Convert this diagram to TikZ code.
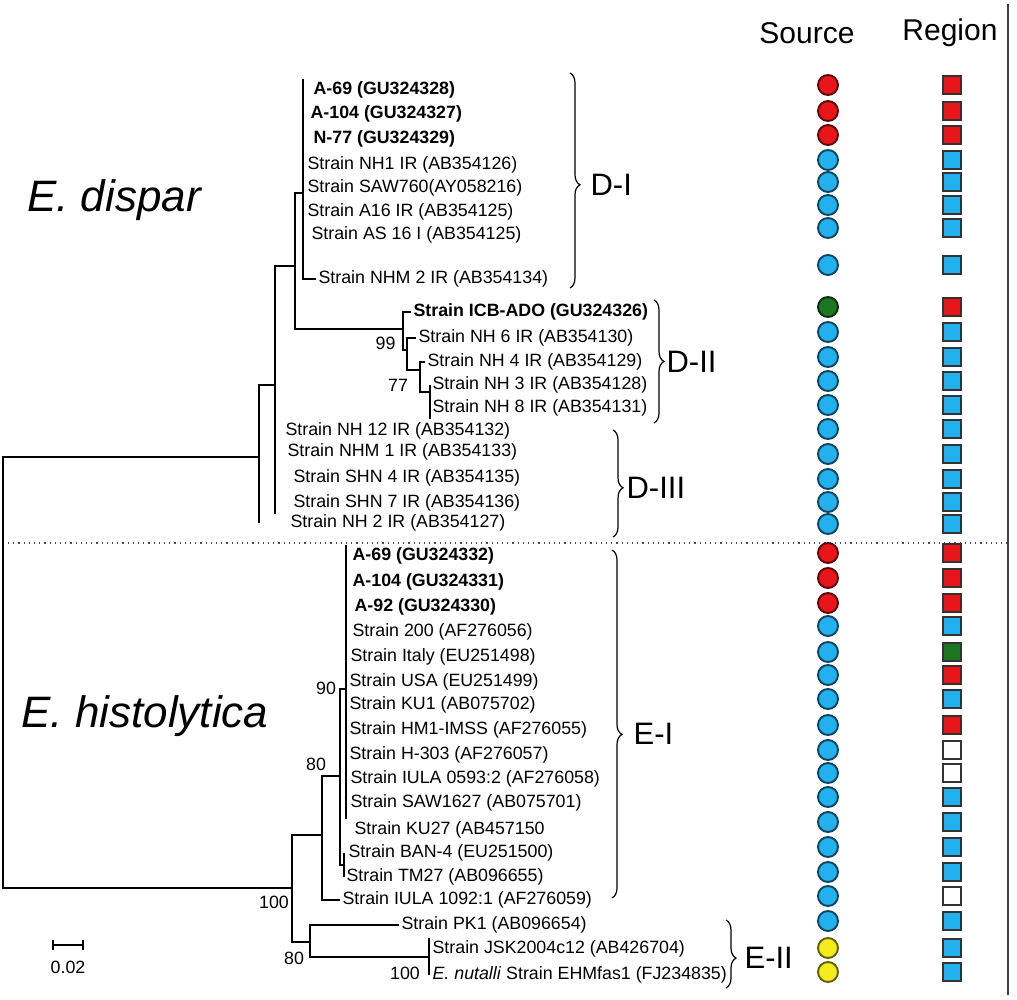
\documentclass[tikz,border=0pt]{standalone}
\usepackage{fontspec}
\setmainfont{Liberation Sans}
\usetikzlibrary{decorations.pathreplacing}
\definecolor{ptred}{RGB}{232,22,26}
\definecolor{ptblue}{RGB}{35,176,238}
\definecolor{ptgreen}{RGB}{28,118,34}
\definecolor{ptyellow}{RGB}{246,236,28}
\tikzset{
    leaf/.style={anchor=west, inner sep=1pt, font=\fontsize{8.9}{10}\selectfont},
    boot/.style={inner sep=0pt, font=\fontsize{8.9}{10}\selectfont},
    clade/.style={decorate, decoration={brace, amplitude=5pt, aspect=#1}},
    cladename/.style={anchor=west, inner sep=0pt, font=\fontsize{15.5}{17}\selectfont},
    species/.style={inner sep=0pt, font=\fontsize{22}{24}\selectfont\itshape},
    head/.style={inner sep=0pt, font=\fontsize{15}{17}\selectfont},
    src/.style={circle, draw=#1!40!black, fill=#1, line width=0.95pt, minimum size=10pt, inner sep=0pt},
    reg/.style={draw=black!80, fill=#1, line width=0.9pt, minimum size=9pt, inner sep=0pt},
}
\begin{document}
\begin{tikzpicture}[x=0.5pt, y=-0.5pt, line width=0.6pt]
                \useasboundingbox (0,0) rectangle (1017,1000);
                \node[leaf] (l1) at (311,90) {\textbf{A-69 (GU324328)}};
                \node[leaf] (l2) at (308,114) {\textbf{A-104 (GU324327)}};
                \node[leaf] (l3) at (311,139) {\textbf{N-77 (GU324329)}};
                \node[leaf] (l4) at (305,165) {Strain NH1 IR (AB354126)};
                \node[leaf] (l5) at (305,188) {Strain SAW760(AY058216)};
                \node[leaf] (l6) at (305,212) {Strain A16 IR (AB354125)};
                \node[leaf] (l7) at (309,235) {Strain AS 16 I (AB354125)};
                \node[leaf] (l8) at (316,279) {Strain NHM 2 IR (AB354134)};
                \node[leaf] (l9) at (411,312) {\textbf{Strain ICB-ADO (GU324326)}};
                \node[leaf] (l10) at (416,338) {Strain NH 6 IR (AB354130)};
                \node[leaf] (l11) at (425,362) {Strain NH 4 IR (AB354129)};
                \node[leaf] (l12) at (430,385) {Strain NH 3 IR (AB354128)};
                \node[leaf] (l13) at (430,408) {Strain NH 8 IR (AB354131)};
                \node[leaf] (l14) at (283,431) {Strain NH 12 IR (AB354132)};
                \node[leaf] (l15) at (285,452) {Strain NHM 1 IR (AB354133)};
                \node[leaf] (l16) at (291,478) {Strain SHN 4 IR (AB354135)};
                \node[leaf] (l17) at (291,503) {Strain SHN 7 IR (AB354136)};
                \node[leaf] (l18) at (288,523) {Strain NH 2 IR (AB354127)};
                \node[leaf] (l19) at (350,556) {\textbf{A-69 (GU324332)}};
                \node[leaf] (l20) at (350,582) {\textbf{A-104 (GU324331)}};
                \node[leaf] (l21) at (352,607) {\textbf{A-92 (GU324330)}};
                \node[leaf] (l22) at (350,632) {Strain 200 (AF276056)};
                \node[leaf] (l23) at (348,657) {Strain Italy (EU251498)};
                \node[leaf] (l24) at (347,682) {Strain USA (EU251499)};
                \node[leaf] (l25) at (347,705) {Strain KU1 (AB075702)};
                \node[leaf] (l26) at (347,730) {Strain HM1-IMSS (AF276055)};
                \node[leaf] (l27) at (347,755) {Strain H-303 (AF276057)};
                \node[leaf] (l28) at (348,779) {Strain IULA 0593:2 (AF276058)};
                \node[leaf] (l29) at (348,803) {Strain SAW1627 (AB075701)};
                \node[leaf] (l30) at (352,830) {Strain KU27 (AB457150};
                \node[leaf] (l31) at (346,853) {Strain BAN-4 (EU251500)};
                \node[leaf] (l32) at (344,877) {Strain TM27 (AB096655)};
                \node[leaf] (l33) at (340,900) {Strain IULA 1092:1 (AF276059)};
                \node[leaf] (l34) at (399,925) {Strain PK1 (AB096654)};
                \node[leaf] (l35) at (430,949) {Strain JSK2004c12 (AB426704)};
                \node[leaf] (l36) at (430,975) {\textit{E. nutalli} Strain EHMfas1 (FJ234835)};
                \path (3,672) coordinate (root);
                \path (259,457) coordinate (nD);
                \path (275,385) coordinate (nD1);
                \path (295,266) coordinate (nDa);
                \path (303,193) coordinate (nDI);
                \path (403,329) coordinate (nDII);
                \path (407,350) coordinate (n99);
                \path (420,370) coordinate (n77);
                \path (430,392) coordinate (n38);
                \path (292,888) coordinate (nE);
                \path (322,835) coordinate (nEI);
                \path (340,776) coordinate (n90);
                \path (346,689) coordinate (nEp);
                \path (344,865) coordinate (nBT);
                \path (310,942) coordinate (nEII);
                \path (429,957) coordinate (nEn);
                \draw (root) |- (nD);
                \draw (root) |- (nE);
                \draw (nD) |- (nD1);
                \draw (nD) -- (nD |- l18);
                \draw (nD1) |- (nDa);
                \draw (nD1) -- (nD1 |- l17.south);
                \draw (nDa) |- (nDI);
                \draw (nDa) |- (nDII);
                \draw (nDI |- l1.north) |- (l8.west);
                \draw[line width=1.2pt] (nDI) -- (nDI |- l4.north);
                \draw (nDII) |- (l9.west);
                \draw (nDII) |- (n99);
                \draw (n99) |- (l10.west);
                \draw (n99) |- (n77);
                \draw (n77) |- (l11.west);
                \draw (n77) |- (n38);
                \draw (n38 |- l12) -- (n38 |- l13.south);
                \draw (nE) |- (nEI);
                \draw (nE) |- (nEII);
                \draw (nEI) |- (n90);
                \draw (nEI) |- (l33.west);
                \draw (n90) |- (nEp);
                \draw (n90) |- (nBT);
                \draw (nEp |- l19.north) -- (nEp |- l30.north);
                \draw (nBT |- l31) -- (nBT |- l32);
                \draw (nEII) |- (l34.west);
                \draw (nEII) |- (nEn);
                \draw (nEn |- l35.north) -- (nEn |- l36);
                \node[boot, anchor=east] (b99) at (396,343) {99};
                \node[boot] (b77) at (398,385) {77};
                \node[boot] (b90) at (326,688) {90};
                \node[boot] (b80a) at (316,764) {80};
                \node[boot] (b100a) at (274,902) {100};
                \node[boot] (b80b) at (294,958) {80};
                \node[boot] (b100b) at (405,973) {100};
                \path (53,945) coordinate (sb1);
                \path (83,945) coordinate (sb2);
                \draw (sb1) -- (sb2);
                \draw (sb1) ++(0,-5) -- ++(0,10);
                \draw (sb2) ++(0,-5) -- ++(0,10);
                \node[boot] (sbl) at (68,967) {0.02};
                \node[species] (dispar) at (114,200) {E. dispar};
                \node[species] (histo) at (145,716) {E. histolytica};
                \draw[clade=0.52] (570,73) -- (570,288);
                \draw[clade=0.5] (654,300) -- (654,423);
                \draw[clade=0.54] (613,430) -- (613,537);
                \draw[clade=0.53] (612,550) -- (612,898);
                \draw[clade=0.56] (726,920) -- (726,988);
                \node[cladename] (cDI) at (590,185) {D-I};
                \node[cladename] (cDII) at (666,362) {D-II};
                \node[cladename] (cDIII) at (626,488) {D-III};
                \node[cladename] (cEI) at (633,734) {E-I};
                \node[cladename] (cEII) at (744,958) {E-II};
                \node[head] (hsrc) at (807,33) {Source};
                \node[head] (hreg) at (950,33) {Region};
                \path (8,543) coordinate (dl1);
                \path (1008,543) coordinate (dl2);
                \path (1008,4) coordinate (rl1);
                \path (1008,995) coordinate (rl2);
                \draw[dotted, black!70] (dl1) -- (dl2);
                \draw[black!75, line width=0.8pt] (rl1) -- (rl2);
                \foreach \y/\s/\r [count=\i] in {85/ptred/ptred, 111/ptred/ptred, 135/ptred/ptred,
                    160/ptblue/ptblue, 182/ptblue/ptblue, 205/ptblue/ptblue, 228/ptblue/ptblue,
                    265/ptblue/ptblue, 307/ptgreen/ptred, 332/ptblue/ptblue, 357/ptblue/ptblue,
                    381/ptblue/ptblue, 405/ptblue/ptblue, 429/ptblue/ptblue, 454/ptblue/ptblue,
                    479/ptblue/ptblue, 502/ptblue/ptblue, 524/ptblue/ptblue, 553/ptred/ptred,
                    578/ptred/ptred, 603/ptred/ptred, 626/ptblue/ptblue, 652/ptblue/ptgreen,
                    675/ptblue/ptred, 699/ptblue/ptblue, 725/ptblue/ptred, 750/ptblue/white,
                    773/ptblue/white, 797/ptblue/ptblue, 822/ptblue/ptblue, 847/ptblue/ptblue,
                    872/ptblue/ptblue, 896/ptblue/white, 921/ptblue/ptblue, 948/ptyellow/ptblue,
                    972/ptyellow/ptblue} {
                    \node[src=\s] (s\i) at (828,\y) {};
                    \node[reg=\r] (g\i) at (952,\y) {};
                }
\end{tikzpicture}
\end{document}
